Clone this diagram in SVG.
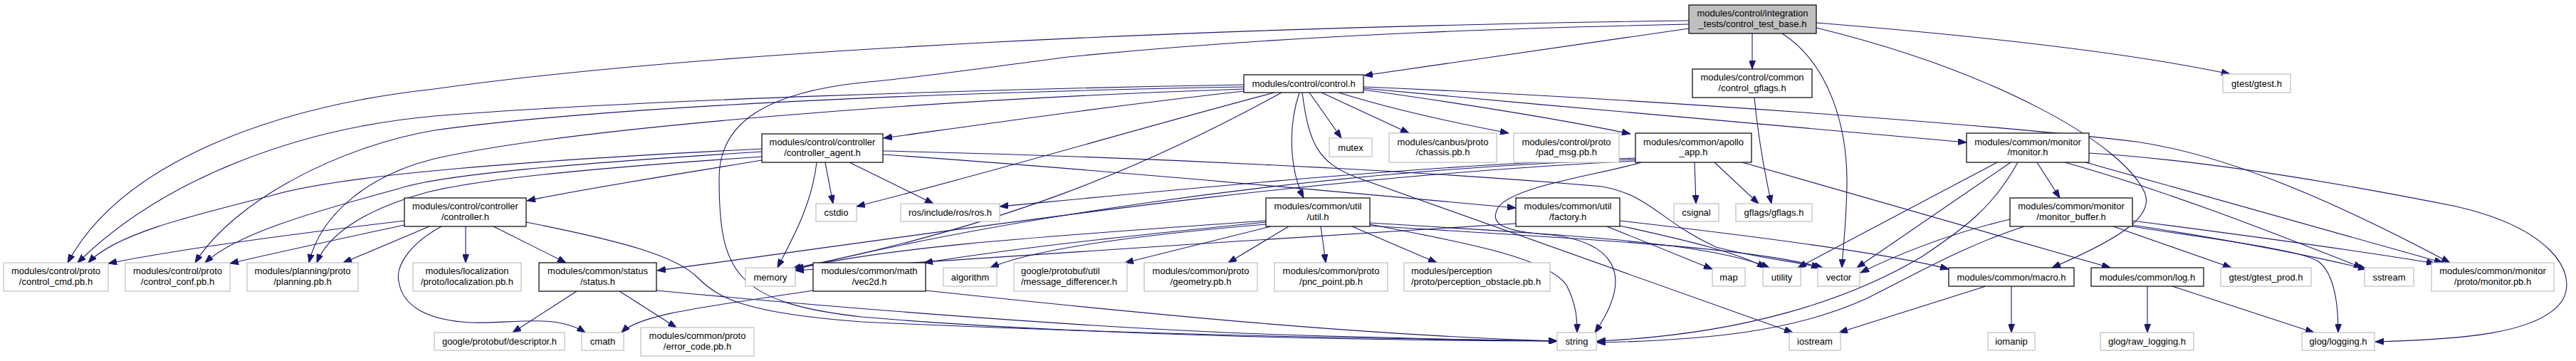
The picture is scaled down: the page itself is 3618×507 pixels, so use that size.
<svg xmlns="http://www.w3.org/2000/svg" width="3618" height="507" viewBox="0 0 3618 507">
<style>
text{font-family:"Liberation Sans",Arial,Helvetica,sans-serif;font-size:13px;fill:#000}
.c text{text-anchor:middle}
.b rect{fill:#fff;stroke:#000;stroke-width:1.2}
.g rect{fill:#fff;stroke:#bfbfbf;stroke-width:1.2}
.r rect{fill:#bfbfbf;stroke:#000;stroke-width:1.2}
#edges path{fill:none;stroke:#191970;stroke-width:1.1;marker-end:url(#a)}
</style>
<defs>
<marker id="a" markerWidth="12" markerHeight="9" refX="12" refY="4.5" orient="auto" markerUnits="userSpaceOnUse">
<path d="M0,0 L12,4.5 L0,9 z" fill="#191970" stroke="#191970" stroke-width="1"/>
</marker>
</defs>
<rect x="0" y="0" width="3618" height="507" fill="#fff"/>
<g id="edges">
<path d="M2372,40 C2200,65 2050,88 1916,106"/>
<path d="M2461,47 L2461,97"/>
<path d="M2551,32 C2800,52 3000,76 3132,104"/>
<path d="M2372,29 C1700,38 1000,70 610,125 C380,150 170,230 95,369"/>
<path d="M2503,47 C2570,90 2595,180 2594,260 C2593,320 2588,350 2587,376"/>
<path d="M2551,39 C2800,100 2980,200 3012,270 C3025,300 2990,330 2882,376"/>
<path d="M2372,34 C2100,40 1800,50 1500,80 C1350,100 1260,112 1210,116 C1080,130 1010,170 1010,250 C1010,380 1030,425 1210,445 C1500,470 1900,478 2187,479"/>
<path d="M1747,128 C1550,150 1400,172 1241,194"/>
<path d="M1839,130 L1884,194"/>
<path d="M1856,130 L1979,187"/>
<path d="M1880,130 C1960,155 2040,172 2119,187"/>
<path d="M1915,126 C2050,145 2180,165 2290,188"/>
<path d="M1915,124 C2200,150 2500,178 2762,200"/>
<path d="M1915,122 C2300,138 2800,175 3000,199 C3150,220 3330,310 3441,369"/>
<path d="M1825,130 C1808,180 1812,240 1831,278"/>
<path d="M1790,130 C1600,180 1400,240 1203,290"/>
<path d="M1800,130 C1600,240 1400,320 1113,377"/>
<path d="M1829,130 C1838,200 1850,228 1905,249 L2518,467"/>
<path d="M1747,119 C1400,125 900,140 610,163 C420,180 230,250 109,369"/>
<path d="M1747,122 C1300,130 850,150 610,183 C480,205 330,280 274,369"/>
<path d="M1747,125 C1300,140 800,180 610,223 C520,245 450,300 434,369"/>
<path d="M1070,225 C950,245 820,265 740,282"/>
<path d="M1070,209 C750,225 480,245 380,275 C260,305 160,330 124,369"/>
<path d="M1070,213 C800,230 620,245 560,265 C430,300 330,330 288,369"/>
<path d="M1070,220 C850,235 680,250 600,270 C510,295 460,330 445,369"/>
<path d="M1147,228 C1140,290 1110,340 1092,376"/>
<path d="M1159,228 L1170,286"/>
<path d="M1193,228 L1311,286"/>
<path d="M1240,217 C1500,235 1800,262 2129,292"/>
<path d="M1240,212 C1600,220 2000,240 2250,262 C2320,275 2330,310 2410,347 C2480,365 2530,368 2556,376"/>
<path d="M568,310 C400,330 250,350 152,370"/>
<path d="M568,316 C480,335 400,352 323,370"/>
<path d="M603,318 L482,369"/>
<path d="M654,318 L654,369"/>
<path d="M693,318 L795,369"/>
<path d="M620,318 C580,340 555,370 560,395 C565,430 600,450 662,453 C720,455 780,440 822,467"/>
<path d="M739,312 C880,340 950,360 980,390 C1010,420 1050,440 1210,452 C1600,470 1900,475 2187,479"/>
<path d="M810,409 L720,467"/>
<path d="M870,409 L950,460"/>
<path d="M922,408 C1100,425 1500,460 1800,470 C2000,476 2100,478 2187,479"/>
<path d="M1142,408 C1000,430 900,440 873,467"/>
<path d="M1300,408 C1600,440 1900,470 2187,479"/>
<path d="M2380,228 L2382,286"/>
<path d="M2408,228 L2470,286"/>
<path d="M2447,228 L2964,376"/>
<path d="M2297,226 C1800,250 1300,330 923,380"/>
<path d="M2297,224 C1800,240 1350,320 1117,378"/>
<path d="M2297,222 C2000,232 1700,262 1404,290"/>
<path d="M2305,228 C2250,245 2130,260 2105,290 C2090,315 2110,325 2180,330 C2260,340 2300,380 2240,467"/>
<path d="M1778,312 C1600,330 1450,345 1298,369"/>
<path d="M1778,315 C1600,330 1450,350 1391,376"/>
<path d="M1785,318 L1580,369"/>
<path d="M1810,318 L1725,369"/>
<path d="M1855,318 L1862,369"/>
<path d="M1899,318 L2018,369"/>
<path d="M1924,315 C2050,340 2170,360 2200,400 C2215,430 2215,450 2215,467"/>
<path d="M1924,313 C2200,330 2400,340 2485,376"/>
<path d="M1924,317 C2200,335 2450,345 2560,376"/>
<path d="M1778,310 C1500,330 1250,345 1117,378"/>
<path d="M2129,314 C1800,335 1400,360 1117,380"/>
<path d="M2257,318 L2405,378"/>
<path d="M2275,310 C2450,330 2650,355 2737,378"/>
<path d="M2275,317 C2380,340 2440,355 2480,376"/>
<path d="M2861,228 L2893,278"/>
<path d="M2805,228 L2525,376"/>
<path d="M2824,228 L2608,376"/>
<path d="M2834,228 C2800,290 2760,320 2700,360 C2600,420 2450,470 2243,479"/>
<path d="M2900,228 C3050,270 3200,330 3318,376"/>
<path d="M2929,228 L3431,369"/>
<path d="M2934,215 C3100,225 3300,260 3450,290 C3580,320 3620,380 3600,420 C3570,470 3450,477 3336,480"/>
<path d="M2823,308 C2730,330 2660,360 2613,383"/>
<path d="M2843,318 C2760,345 2700,380 2620,420 C2520,465 2400,478 2243,481"/>
<path d="M2968,318 L3134,376"/>
<path d="M2995,310 C3150,330 3300,350 3420,370"/>
<path d="M2995,316 C3150,340 3250,360 3324,378"/>
<path d="M2995,318 C3100,335 3230,350 3256,367 C3280,385 3284,430 3284,467"/>
<path d="M3016,402 L3016,467"/>
<path d="M3051,402 L3250,467"/>
<path d="M2825,402 L2825,467"/>
<path d="M2789,402 L2583,467"/>
<path d="M2464,137 C2470,200 2480,250 2488,286"/>
</g>
<g id="root" class="r c"><rect x="2372" y="7" width="179" height="40"/><text x="2461.5" y="23">modules/control/integration</text><text x="2461.5" y="37.5">_tests/control_test_base.h</text></g>
<g id="control_gflags" class="b c"><rect x="2377" y="97" width="168" height="40"/><text x="2461" y="113">modules/control/common</text><text x="2461" y="127.5">/control_gflags.h</text></g>
<g id="gtest" class="g c"><rect x="3122" y="104" width="95" height="26"/><text x="3169.5" y="121.5">gtest/gtest.h</text></g>
<g id="control" class="b c"><rect x="1747" y="105" width="168" height="25"/><text x="1831" y="122">modules/control/control.h</text></g>
<g id="controller_agent" class="b c"><rect x="1070" y="188" width="170" height="40"/><text x="1155" y="204">modules/control/controller</text><text x="1155" y="218.5">/controller_agent.h</text></g>
<g id="mutex" class="g c"><rect x="1867" y="194" width="60" height="26"/><text x="1897" y="211.5">mutex</text></g>
<g id="chassis" class="g c"><rect x="1951" y="187" width="151" height="41"/><text x="2026.5" y="203.5">modules/canbus/proto</text><text x="2026.5" y="218">/chassis.pb.h</text></g>
<g id="pad_msg" class="g c"><rect x="2126" y="187" width="148" height="41"/><text x="2200" y="203.5">modules/control/proto</text><text x="2200" y="218">/pad_msg.pb.h</text></g>
<g id="apollo_app" class="b c"><rect x="2297" y="187" width="163" height="41"/><text x="2378.5" y="203.5">modules/common/apollo</text><text x="2378.5" y="218">_app.h</text></g>
<g id="monitor" class="b c"><rect x="2762" y="187" width="172" height="41"/><text x="2848" y="203.5">modules/common/monitor</text><text x="2848" y="218">/monitor.h</text></g>
<g id="controller" class="b c"><rect x="568" y="278" width="171" height="40"/><text x="653.5" y="294">modules/control/controller</text><text x="653.5" y="308.5">/controller.h</text></g>
<g id="cstdio" class="g c"><rect x="1146" y="286" width="57" height="25"/><text x="1174.5" y="303">cstdio</text></g>
<g id="ros" class="g c"><rect x="1265" y="286" width="139" height="25"/><text x="1334.5" y="303">ros/include/ros/ros.h</text></g>
<g id="util" class="b c"><rect x="1778" y="278" width="146" height="40"/><text x="1851" y="294">modules/common/util</text><text x="1851" y="308.5">/util.h</text></g>
<g id="factory" class="b c"><rect x="2129" y="278" width="146" height="40"/><text x="2202" y="294">modules/common/util</text><text x="2202" y="308.5">/factory.h</text></g>
<g id="csignal" class="g c"><rect x="2351" y="286" width="63" height="25"/><text x="2382.5" y="303">csignal</text></g>
<g id="gflags" class="g c"><rect x="2438" y="286" width="107" height="25"/><text x="2491.5" y="303">gflags/gflags.h</text></g>
<g id="monitor_buffer" class="b c"><rect x="2823" y="278" width="172" height="40"/><text x="2909" y="294">modules/common/monitor</text><text x="2909" y="308.5">/monitor_buffer.h</text></g>
<g id="control_cmd" class="g c"><rect x="5" y="369" width="147" height="40"/><text x="78.5" y="385">modules/control/proto</text><text x="78.5" y="399.5">/control_cmd.pb.h</text></g>
<g id="control_conf" class="g c"><rect x="176" y="369" width="147" height="40"/><text x="249.5" y="385">modules/control/proto</text><text x="249.5" y="399.5">/control_conf.pb.h</text></g>
<g id="planning" class="g c"><rect x="347" y="369" width="156" height="40"/><text x="425" y="385">modules/planning/proto</text><text x="425" y="399.5">/planning.pb.h</text></g>
<g id="localization" class="g c"><rect x="580" y="369" width="152" height="40"/><text x="656" y="385">modules/localization</text><text x="656" y="399.5">/proto/localization.pb.h</text></g>
<g id="status" class="b c"><rect x="757" y="369" width="165" height="40"/><text x="839.5" y="385">modules/common/status</text><text x="839.5" y="399.5">/status.h</text></g>
<g id="memory" class="g c"><rect x="1047" y="376" width="70" height="26"/><text x="1082" y="393.5">memory</text></g>
<g id="vec2d" class="b c"><rect x="1142" y="369" width="158" height="40"/><text x="1221" y="385">modules/common/math</text><text x="1221" y="399.5">/vec2d.h</text></g>
<g id="algorithm" class="g c"><rect x="1325" y="376" width="75" height="26"/><text x="1362.5" y="393.5">algorithm</text></g>
<g id="message_differencer" class="g"><rect x="1424" y="369" width="159" height="40"/><text x="1434" y="385">google/protobuf/util</text><text x="1434" y="399.5">/message_differencer.h</text></g>
<g id="geometry" class="g c"><rect x="1607" y="369" width="159" height="40"/><text x="1686.5" y="385">modules/common/proto</text><text x="1686.5" y="399.5">/geometry.pb.h</text></g>
<g id="pnc_point" class="g c"><rect x="1790" y="369" width="159" height="40"/><text x="1869.5" y="385">modules/common/proto</text><text x="1869.5" y="399.5">/pnc_point.pb.h</text></g>
<g id="perception_obstacle" class="g"><rect x="1972" y="369" width="205" height="40"/><text x="1982" y="385">modules/perception</text><text x="1982" y="399.5">/proto/perception_obstacle.pb.h</text></g>
<g id="map" class="g c"><rect x="2405" y="376" width="46" height="26"/><text x="2428" y="393.5">map</text></g>
<g id="utility" class="g c"><rect x="2476" y="376" width="53" height="26"/><text x="2502.5" y="393.5">utility</text></g>
<g id="vector" class="g c"><rect x="2553" y="376" width="59" height="26"/><text x="2582.5" y="393.5">vector</text></g>
<g id="macro" class="b c"><rect x="2737" y="376" width="176" height="26"/><text x="2825" y="393.5">modules/common/macro.h</text></g>
<g id="log" class="b c"><rect x="2937" y="376" width="158" height="26"/><text x="3016" y="393.5">modules/common/log.h</text></g>
<g id="gtest_prod" class="g c"><rect x="3119" y="376" width="127" height="26"/><text x="3182.5" y="393.5">gtest/gtest_prod.h</text></g>
<g id="sstream" class="g c"><rect x="3321" y="376" width="69" height="26"/><text x="3355.5" y="393.5">sstream</text></g>
<g id="monitor_pb" class="g c"><rect x="3415" y="369" width="172" height="40"/><text x="3501" y="385">modules/common/monitor</text><text x="3501" y="399.5">/proto/monitor.pb.h</text></g>
<g id="descriptor" class="g c"><rect x="610" y="467" width="183" height="25"/><text x="701.5" y="484">google/protobuf/descriptor.h</text></g>
<g id="cmath" class="g c"><rect x="817" y="467" width="59" height="25"/><text x="846.5" y="484">cmath</text></g>
<g id="error_code" class="g c"><rect x="900" y="460" width="159" height="40"/><text x="979.5" y="476">modules/common/proto</text><text x="979.5" y="490.5">/error_code.pb.h</text></g>
<g id="string" class="g c"><rect x="2187" y="467" width="55" height="25"/><text x="2214.5" y="484">string</text></g>
<g id="iostream" class="g c"><rect x="2513" y="467" width="72" height="25"/><text x="2549" y="484">iostream</text></g>
<g id="iomanip" class="g c"><rect x="2792" y="467" width="66" height="25"/><text x="2825" y="484">iomanip</text></g>
<g id="raw_logging" class="g c"><rect x="2950" y="467" width="131" height="25"/><text x="3015.5" y="484">glog/raw_logging.h</text></g>
<g id="logging" class="g c"><rect x="3233" y="467" width="102" height="25"/><text x="3284" y="484">glog/logging.h</text></g>
</svg>
